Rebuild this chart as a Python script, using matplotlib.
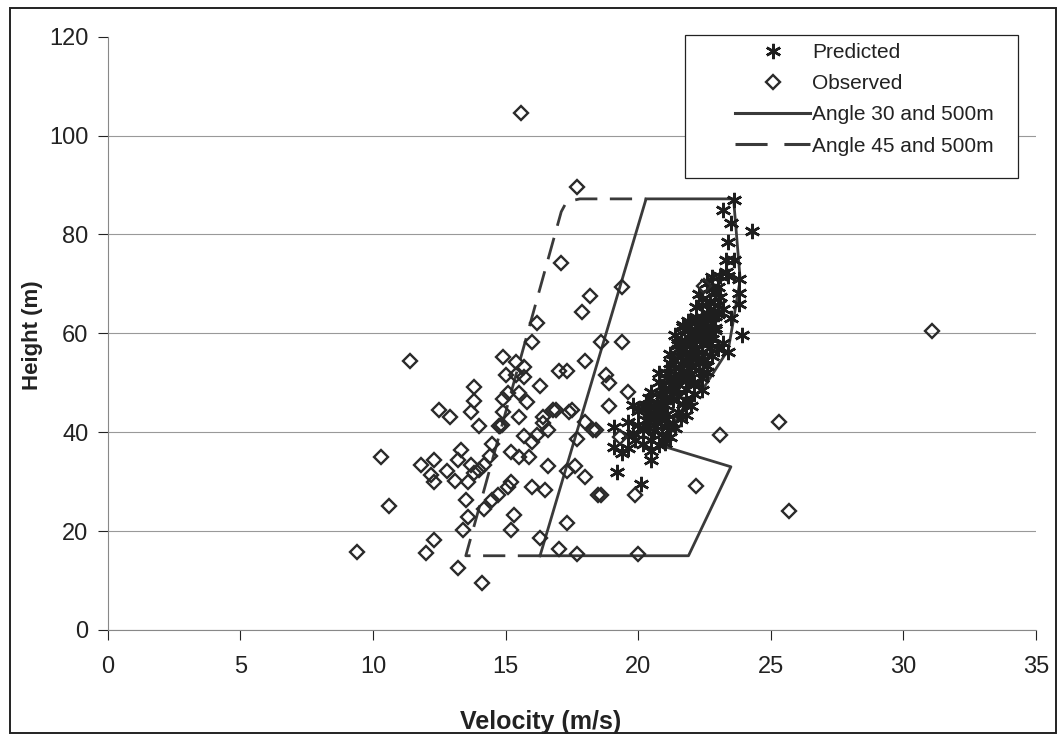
import matplotlib.pyplot as plt
from matplotlib.patches import Rectangle
from matplotlib.lines import Line2D

plt.rcParams['font.family'] = ['Liberation Sans', 'DejaVu Sans']

# observed (velocity m/s, height m)
obs_x = [15.6, 17.7, 31.1, 25.3, 25.7, 23.1, 22.2, 19.9, 20.0, 18.6, 9.4,
         11.4, 14.9, 15.4, 15.7, 15.0, 15.4, 15.7, 16.0, 16.2, 13.8, 16.3, 14.9, 15.1, 15.5,
         13.8, 15.8, 13.7, 14.9, 12.5, 12.9, 14.0, 14.8, 14.75, 14.85, 15.5, 16.4, 16.4, 15.7,
         16.0, 16.2, 14.5, 13.3, 13.2, 15.2, 15.5, 15.9, 16.6, 11.8, 12.3, 12.2, 12.3, 12.8,
         13.1, 13.7, 14.2, 14.0, 13.8, 13.6, 14.4, 10.3, 10.6, 15.2, 15.1, 16.0, 16.5, 13.5,
         13.6, 14.2, 14.5, 14.7, 15.3, 13.4, 15.2, 12.3, 12.0, 13.2, 14.1, 16.3,
         17.0, 17.3, 18.0, 18.8, 18.9, 18.9, 16.8, 16.9, 17.5, 17.4, 16.6, 18.0, 18.3, 18.4,
         17.7, 17.3, 17.6, 18.0, 18.5, 17.3, 17.0, 17.7, 17.1, 19.4, 18.2, 17.9, 18.6, 19.4,
         19.6, 22.5, 19.3]
obs_y = [104.5, 89.7, 60.5, 42.1, 24.1, 39.4, 29.1, 27.3, 15.4, 27.3, 15.8,
         54.3, 55.2, 54.1, 53.2, 51.6, 51.6, 51.2, 58.3, 62.1, 49.2, 49.4, 46.8, 48.0, 48.0,
         46.4, 46.2, 44.1, 44.1, 44.5, 43.1, 41.3, 41.3, 41.2, 41.4, 43.1, 43.1, 41.9, 39.3,
         38.1, 39.5, 37.7, 36.4, 34.4, 36.0, 35.0, 35.0, 33.2, 33.4, 34.4, 31.4, 30.0, 32.2,
         30.2, 33.4, 33.4, 32.4, 31.8, 30.0, 35.2, 35.0, 25.1, 30.0, 29.0, 29.0, 28.3, 26.3,
         22.9, 24.5, 26.3, 27.3, 23.3, 20.2, 20.2, 18.2, 15.6, 12.6, 9.5, 18.6,
         52.3, 52.3, 54.5, 51.6, 50.0, 45.2, 44.5, 44.4, 44.5, 44.0, 40.5, 42.1, 40.5, 40.5,
         38.7, 32.2, 33.2, 31.0, 27.3, 21.7, 16.4, 15.4, 74.3, 69.4, 67.6, 64.4, 58.3, 58.3,
         48.2, 69.6, 39.0]

# predicted
pred_x = [19.4, 19.6, 19.2, 20.1, 19.1, 19.1, 19.6, 19.9, 20.5, 20.8, 20.5, 20.5, 21.0,
          20.2, 20.6, 20.9, 21.2, 20.3, 19.6, 19.8, 21.4, 20.0, 20.7, 21.0, 21.3, 21.6,
          20.4, 20.8, 21.1, 21.5, 21.8, 19.8, 20.3, 20.7, 21.0, 21.3, 21.7, 22.0,
          20.5, 20.9, 21.2, 21.5, 21.8, 22.1, 22.4, 20.8, 21.2, 21.5, 21.8, 22.1, 22.4,
          20.8, 21.1, 21.4, 21.7, 22.0, 22.3, 22.6, 21.3, 21.6, 21.9, 22.2, 22.5, 22.8,
          21.5, 21.8, 22.1, 22.4, 22.7, 23.0, 23.4, 21.6, 21.9, 22.2, 22.5, 22.8,
          21.4, 21.7, 22.0, 22.3, 22.6, 22.9, 21.7, 22.5, 22.8, 22.2, 22.6, 22.2, 23.0,
          23.1, 23.0, 22.6, 22.8, 23.1, 23.4, 23.8, 23.8, 23.3, 23.6, 23.4, 23.5, 23.2,
          23.6, 24.3, 23.9, 23.5, 23.8, 20.2, 20.6, 21.0, 21.4, 21.9, 22.3, 22.0, 21.5,
          22.4, 22.9, 23.2, 22.7, 21.9, 20.0, 20.4, 21.2, 21.6, 22.1, 22.9, 23.3, 22.4,
          20.3, 20.6, 20.9, 21.2, 21.0, 21.3, 21.6, 21.9, 21.4, 21.7, 22.0, 22.3, 21.8,
          22.1, 22.4, 22.7, 22.0, 22.3, 22.6, 22.9, 22.2, 22.5, 22.8, 21.1, 20.7, 20.4,
          21.8, 22.6, 23.2, 22.4, 21.2, 20.9, 22.0, 22.7, 23.0, 21.5, 22.3, 22.8]
pred_y = [35.8, 36.9, 32.0, 29.6, 41.1, 37.0, 39.5, 38.5, 38.5, 37.4, 36.1, 34.4, 37.9,
          40.5, 40.2, 39.6, 39.0, 42.5, 42.1, 39.9, 40.8, 41.5, 41.8, 42.4, 41.9, 42.6,
          43.6, 44.2, 43.6, 44.1, 43.4, 45.5, 45.5, 46.1, 45.4, 46.5, 45.8, 45.2,
          48.2, 47.6, 48.4, 47.4, 48.8, 47.8, 48.5, 50.2, 50.6, 49.8, 50.9, 50.1, 51.0,
          52.0, 52.0, 53.0, 52.4, 53.2, 52.6, 53.4, 54.6, 55.2, 54.4, 55.6, 54.8, 55.5,
          56.8, 57.4, 56.6, 57.8, 57.0, 56.9, 56.3, 58.6, 59.2, 58.4, 59.6, 58.8,
          59.7, 61.3, 60.8, 61.4, 60.6, 61.0, 61.7, 62.1, 62.1, 63.4, 64.2, 65.4, 65.8,
          67.4, 69.4, 70.2, 71.3, 71.5, 71.5, 70.9, 68.2, 74.9, 74.9, 78.5, 82.4, 85.0,
          87.0, 80.6, 59.7, 63.0, 66.0, 37.6, 43.0, 47.0, 49.0, 51.5, 54.0, 56.0, 58.0,
          60.0, 63.5, 65.0, 66.5, 62.5, 44.3, 47.0, 55.8, 53.8, 49.5, 68.5, 72.5, 67.0,
          44.8, 45.0, 46.8, 47.1, 49.0, 49.5, 51.2, 50.5, 51.8, 53.6, 54.1, 53.9, 56.1,
          57.9, 56.2, 58.1, 59.9, 60.2, 59.3, 60.7, 62.6, 63.0, 63.8, 41.0, 43.1, 40.9,
          46.6, 52.1, 58.0, 65.8, 54.0, 49.3, 62.0, 66.2, 64.0, 57.6, 68.0, 69.0]

# envelope for angle 30 and 500 m
a30_x = [16.3, 21.9, 23.5, 20.8, 21.1, 21.7, 22.5, 23.4, 23.6, 23.85, 23.6, 20.3, 16.3]
a30_y = [15.0, 15.0, 33.0, 37.4, 39.5, 44.9, 49.2, 56.7, 62.8, 70.9, 87.2, 87.2, 15.0]

# envelope for angle 45 and 500 m
a45_x = [16.3, 13.5, 17.1, 17.3, 17.8, 20.3]
a45_y = [15.0, 15.0, 84.6, 86.6, 87.2, 87.2]

fig = plt.figure(figsize=(10.58, 7.35), dpi=100)
ax = fig.add_axes([0.102, 0.143, 0.877, 0.807])

txt = '#222222'
lc = '#3a3a3a'
ax.plot(a45_x, a45_y, color=lc, lw=2.0, dashes=(8, 4.5), zorder=3)
ax.plot(a30_x, a30_y, color=lc, lw=2.0, zorder=3)
hp, = ax.plot(pred_x, pred_y, ls='none', marker=(6, 2, 0), ms=11, mew=1.8, color='#1e1e1e',
              zorder=4)
ho, = ax.plot(obs_x, obs_y, ls='none', marker='D', ms=7, mfc='none', mec='#2a2a2a', mew=1.7,
              zorder=5)

ax.set_xlim(0, 35)
ax.set_ylim(0, 120)
ax.set_xticks(range(0, 36, 5))
ax.set_yticks(range(0, 121, 20))
ax.tick_params(labelsize=17, colors=txt, length=7, width=0.8)
ax.tick_params(axis='x', pad=12)
ax.tick_params(axis='y', pad=7)
for t in ax.get_xticklines() + ax.get_yticklines():
    t.set_color('#888888')
ax.yaxis.grid(True, color='#999999', lw=0.8)
ax.yaxis.get_gridlines()[-1].set_visible(False)
ax.set_axisbelow(True)
for s in ['top', 'right']:
    ax.spines[s].set_visible(False)
for s in ['left', 'bottom']:
    ax.spines[s].set_color('#888888')
    ax.spines[s].set_linewidth(0.8)

ax.set_xlabel('Velocity (m/s)', fontsize=18, fontweight='bold', color=txt,
              family=['Liberation Sans Narrow', 'Liberation Sans'])
ax.set_ylabel('Height (m)', fontsize=16, fontweight='bold', color=txt,
              family=['Liberation Sans Narrow', 'Liberation Sans'])
ax.xaxis.set_label_coords(0.466, -0.135)
ax.yaxis.set_label_coords(-0.07, 0.497)

h30 = Line2D([], [], color=lc, lw=2.2)
h45 = Line2D([], [], color=lc, lw=2.2, dashes=(10.5, 5.5))
leg = fig.legend([hp, ho, h30, h45],
                 ['Predicted', 'Observed', 'Angle 30 and 500m', 'Angle 45 and 500m'],
                 loc='upper left', bbox_to_anchor=(729 / 1058, 1 - 37 / 735),
                 fontsize=15, frameon=False, handlelength=3.6, handletextpad=0.1,
                 labelspacing=0.58, borderpad=0.3, borderaxespad=0)
for t in leg.get_texts():
    t.set_color(txt)
fig.patches.append(Rectangle((685 / 1058, 1 - 178 / 735), 333 / 1058, 143 / 735,
                             transform=fig.transFigure, fill=True, fc='white',
                             ec='#222222', lw=0.9, zorder=4))
leg.set_zorder(5)

fig.patches.append(Rectangle((10 / 1058, 2 / 735), 1046 / 1058, 725 / 735,
                             transform=fig.transFigure, fill=False, ec='#222222', lw=1.4))

fig.savefig('out.png', dpi=100, facecolor='white')
